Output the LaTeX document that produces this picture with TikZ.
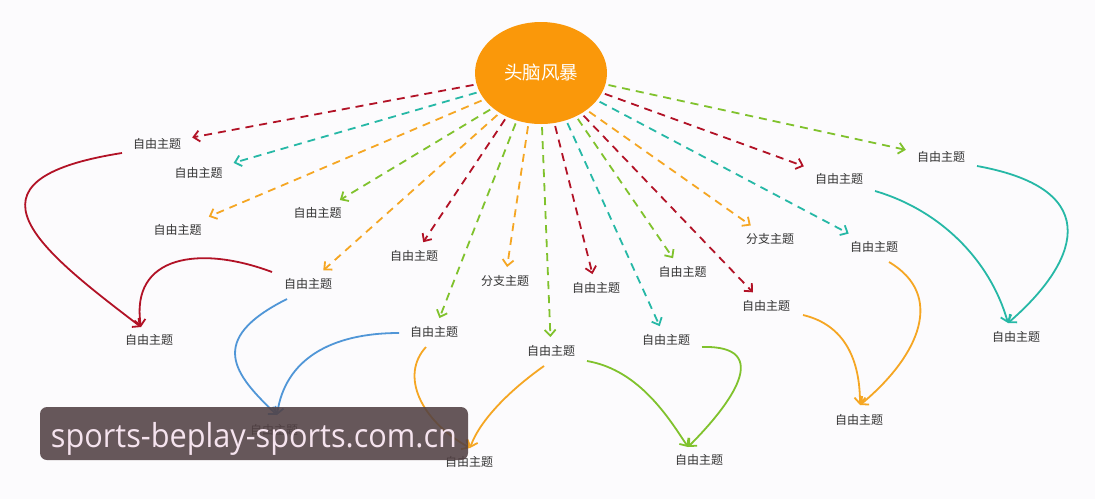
\documentclass[tikz,border=0pt]{standalone}
\usepackage{fontspec}
\usepackage{graphicx}
\setmainfont{Open Sans}
\newfontfamily\cjk{Noto Sans CJK SC}
\usetikzlibrary{arrows.meta,shapes.geometric,calc}
\definecolor{bgc}{RGB}{252,251,253}
\definecolor{dred}{RGB}{178,18,38}
\definecolor{teal2}{RGB}{38,184,166}
\definecolor{orng}{RGB}{245,166,35}
\definecolor{grn}{RGB}{128,194,45}
\definecolor{blu}{RGB}{80,150,215}
\definecolor{sun}{RGB}{250,152,10}
\definecolor{labtext}{RGB}{51,51,51}
\definecolor{wmfill}{RGB}{82,65,68}
\definecolor{wmtext}{RGB}{245,227,238}
\begin{document}
\begin{tikzpicture}[x=1pt,y=-1pt,
  lab/.style={font=\cjk\fontsize{12}{14}\selectfont, text=labtext, inner xsep=10pt, inner ysep=7pt, text height=10pt, text depth=1.5pt},
  dsh/.style={line width=1.8pt, dash pattern=on 8pt off 6pt, -{Straight Barb[length=6pt,width=11pt]}, shorten <=3pt, shorten >=1pt},
  crv/.style={line width=1.8pt, -{Straight Barb[length=6pt,width=11pt]}},
]
\fill[bgc] (0,0) rectangle (1095,499);
\useasboundingbox (0,0) rectangle (1095,499);

\node[ellipse, fill=sun, minimum width=132pt, minimum height=102pt, inner sep=0pt, text=white, font=\cjk\fontsize{18.5}{20}\selectfont] (c) at (541,73) {头脑风暴};

\node[lab] (l1) at (157,144) {自由主题};
\node[lab] (l2) at (198.5,173) {自由主题};
\node[lab] (l3) at (177.5,230) {自由主题};
\node[lab] (l4) at (317.5,213.5) {自由主题};
\node[lab] (l5) at (414,256) {自由主题};
\node[lab] (l6) at (308,284) {自由主题};
\node[lab] (l7) at (505,281) {分支主题};
\node[lab] (l8) at (596,288) {自由主题};
\node[lab] (l9) at (434,332) {自由主题};
\node[lab] (l10) at (551,351) {自由主题};
\node[lab] (l11) at (682.5,272) {自由主题};
\node[lab] (l12) at (666,340) {自由主题};
\node[lab] (l13) at (766,306) {自由主题};
\node[lab] (l14) at (770,239) {分支主题};
\node[lab] (l15) at (874,247) {自由主题};
\node[lab] (l16) at (839,179) {自由主题};
\node[lab] (l17) at (941,157.5) {自由主题};

\node[lab] (b1) at (149,340) {自由主题};
\node[lab] (b2) at (274,430) {自由主题};
\node[lab] (b3) at (469,462) {自由主题};
\node[lab] (b4) at (699,460) {自由主题};
\node[lab] (b5) at (859,420) {自由主题};
\node[lab] (b6) at (1016,337.5) {自由主题};

\draw[dsh, dred] (c.190) -- (l1);
\draw[dsh, teal2] (c.197) -- (l2);
\draw[dsh, orng] (c.205) -- (l3);
\draw[dsh, grn] (c.216) -- (l4);
\draw[dsh, orng] (c.224) -- (l6);
\draw[dsh, dred] (c.232) -- (l5);
\draw[dsh, grn] (c.243) -- (l9);
\draw[dsh, orng] (c.256) -- (l7);
\draw[dsh, grn] (c.271) -- (l10);
\draw[dsh, dred] (c.285) -- (l8);
\draw[dsh, teal2] (c.298) -- (l12);
\draw[dsh, grn] (c.309) -- (l11);
\draw[dsh, dred] (c.315) -- (l13);
\draw[dsh, orng] (c.321) -- (l14);
\draw[dsh, teal2] (c.334) -- (l15);
\draw[dsh, dred] (c.342) -- (l16);
\draw[dsh, grn] (c.350) -- (l17);

\draw[crv, dred] ($(l1)+(-35,9)$) .. controls +(-172,27) and +(-101,-77) .. ($(b1)+(-8,-13)$);
\draw[crv, dred] ($(l6)+(-36,-12)$) .. controls +(-72,-27) and +(-11,-72) .. ($(b1)+(-8,-13)$);
\draw[crv, blu] ($(l6)+(-21,15)$) .. controls +(-82,41) and +(-42,-40) .. ($(b2)+(3,-15)$);
\draw[crv, blu] ($(l9)+(-35,1)$) .. controls +(-69,0) and +(8,-55) .. ($(b2)+(3,-15)$);
\draw[crv, orng] ($(l9)+(-8,15)$) .. controls +(-26,28) and +(-50,-28) .. ($(b3)+(1,-14)$);
\draw[crv, orng] ($(l10)+(-7,15)$) .. controls +(-34,24) and +(10,-28) .. ($(b3)+(1,-14)$);
\draw[crv, grn] ($(l10)+(36,10)$) .. controls +(53,9) and +(-18,-27) .. ($(b4)+(-11,-13)$);
\draw[crv, grn] ($(l12)+(36,7)$) .. controls +(73,-2) and +(42,-42) .. ($(b4)+(-11,-13)$);
\draw[crv, orng] ($(l13)+(37,9)$) .. controls +(42,10) and +(0,-45) .. ($(b5)+(1,-15)$);
\draw[crv, orng] ($(l15)+(15,15)$) .. controls +(56,33) and +(60,-50) .. ($(b5)+(1,-15)$);
\draw[crv, teal2] ($(l16)+(36,12)$) .. controls +(65,19) and +(-18,-63) .. ($(b6)+(-8,-14.5)$);
\draw[crv, teal2] ($(l17)+(36,8.5)$) .. controls +(133,24) and +(67,-58) .. ($(b6)+(-8,-14.5)$);

\node[fill=wmfill, fill opacity=0.88, rounded corners=7pt, minimum width=428pt, minimum height=53pt, inner sep=0pt] (wmbox) at (254,433.5) {};
\node[inner sep=0pt, text=wmtext] (wmlabel) at (254,438.5) {\resizebox*{406pt}{33pt}{sports-beplay-sports.com.cn}};
\end{tikzpicture}
\end{document}
